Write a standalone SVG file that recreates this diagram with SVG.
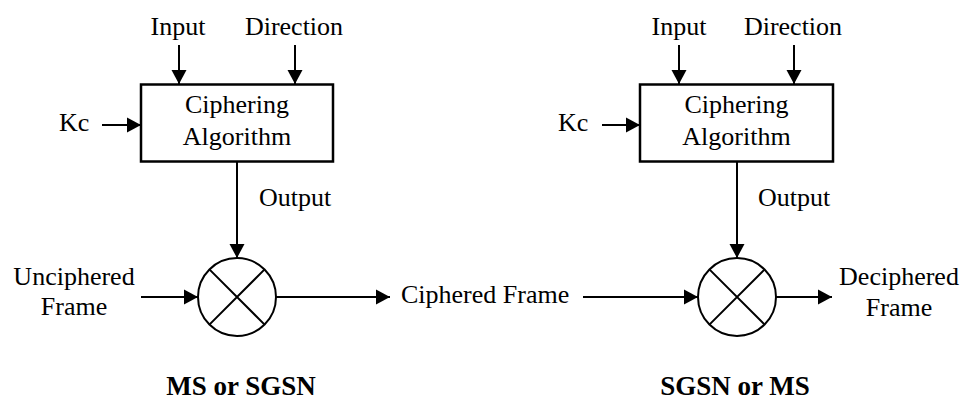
<svg xmlns="http://www.w3.org/2000/svg" width="962" height="403" viewBox="0 0 962 403">
<style>
text{font-family:"Liberation Serif","Times New Roman",serif;font-size:26px;fill:#000}
.b{font-weight:bold;font-size:27px}
.m{text-anchor:middle}
.ln{stroke:#000;stroke-width:2;fill:none}
.bx{stroke:#000;stroke-width:2.5;fill:#fff}
</style>
<defs>
<marker id="ah" markerUnits="userSpaceOnUse" markerWidth="16" markerHeight="16" viewBox="0 0 16 16" refX="14" refY="8" orient="auto">
<path d="M0,0.5 L14,8 L0,15.5 Z" fill="#000"/>
</marker>
</defs>
<rect width="962" height="403" fill="#fff"/>
<g id="connectors">
<line class="ln" x1="179" y1="45" x2="179" y2="84" marker-end="url(#ah)"/>
<line class="ln" x1="295" y1="45" x2="295" y2="84" marker-end="url(#ah)"/>
<line class="ln" x1="102" y1="125" x2="141" y2="125" marker-end="url(#ah)"/>
<line class="ln" x1="237" y1="162" x2="237" y2="258" marker-end="url(#ah)"/>
<line class="ln" x1="141" y1="297" x2="198" y2="297" marker-end="url(#ah)"/>
<line class="ln" x1="276" y1="297" x2="390" y2="297" marker-end="url(#ah)"/>
<line class="ln" x1="679" y1="45" x2="679" y2="84" marker-end="url(#ah)"/>
<line class="ln" x1="794" y1="45" x2="794" y2="84" marker-end="url(#ah)"/>
<line class="ln" x1="602" y1="125" x2="640" y2="125" marker-end="url(#ah)"/>
<line class="ln" x1="737" y1="162" x2="737" y2="258" marker-end="url(#ah)"/>
<line class="ln" x1="583" y1="297" x2="698" y2="297" marker-end="url(#ah)"/>
<line class="ln" x1="776" y1="297" x2="832" y2="297" marker-end="url(#ah)"/>
</g>
<g id="alg1">
<rect class="bx" x="141" y="84.5" width="192" height="77"/>
<text class="m" x="237" y="113">Ciphering</text>
<text class="m" x="237" y="145">Algorithm</text>
</g>
<g id="xor1">
<circle class="ln" cx="237" cy="297" r="39" fill="#fff"/>
<path class="ln" d="M209.4,269.4 L264.6,324.6 M264.6,269.4 L209.4,324.6"/>
</g>
<g id="alg2">
<rect class="bx" x="640" y="84.5" width="193" height="77"/>
<text class="m" x="736.5" y="113">Ciphering</text>
<text class="m" x="736.5" y="145">Algorithm</text>
</g>
<g id="xor2">
<circle class="ln" cx="737" cy="297" r="39" fill="#fff"/>
<path class="ln" d="M709.4,269.4 L764.6,324.6 M764.6,269.4 L709.4,324.6"/>
</g>
<g id="labels">
<text class="m" x="178" y="35">Input</text>
<text class="m" x="294" y="35">Direction</text>
<text x="59" y="131">Kc</text>
<text x="259" y="206">Output</text>
<text class="m" x="74" y="285">Unciphered</text>
<text class="m" x="74" y="315">Frame</text>
<text x="401" y="303">Ciphered Frame</text>
<text class="m b" x="241" y="395">MS or SGSN</text>
<text class="m" x="679" y="35">Input</text>
<text class="m" x="793" y="35">Direction</text>
<text x="558" y="131">Kc</text>
<text x="758" y="206">Output</text>
<text class="m" x="899" y="285">Deciphered</text>
<text class="m" x="899" y="316">Frame</text>
<text class="m b" x="735" y="395">SGSN or MS</text>
</g>
</svg>
